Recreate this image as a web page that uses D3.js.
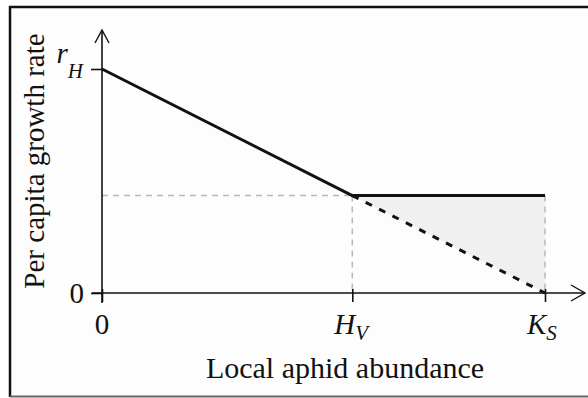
<!DOCTYPE html>
<html>
<head>
<meta charset="utf-8">
<script src="https://cdn.jsdelivr.net/npm/d3@7"></script>
<style>
  html, body { margin: 0; padding: 0; background: #fff; }
</style>
</head>
<body>
<svg id="chart" width="588" height="398" font-family="'Liberation Serif', 'Times New Roman', serif"></svg>
<script>
// Local aphid abundance (x) at the three marked points: 0, H_V, K_S
const abundance = [0, 0.565, 1];
// Growth rate with host vigour (levels off after H_V)
const growthVigour = [1, 0.435, 0.435];
// Logistic decline continued to K_S (dashed beyond H_V)
const growthLogistic = [1, 0.435, 0];
// Tick labels: main glyph + subscript
const xTickLabels = [["0", ""], ["H", "V"], ["K", "S"]];
const yTickValues = [0, 1];
const yTickLabels = [["0", ""], ["r", "H"]];

const svg = d3.select("#chart");
const ink = "#111";

const x = d3.scaleLinear().domain([0, 1]).range([102, 545]);
const y = d3.scaleLinear().domain([0, 1]).range([293, 69]);

// frame
svg.append("rect").attr("x", 0).attr("y", 0).attr("width", 588).attr("height", 398).attr("fill", "#fff");
svg.append("rect").attr("x", 10).attr("y", 7).attr("width", 600).attr("height", 389)
  .attr("fill", "#fdfdfd");
svg.append("line").attr("x1", 10).attr("x2", 10).attr("y1", 6).attr("y2", 397)
  .attr("stroke", ink).attr("stroke-width", 2.5);
svg.append("line").attr("x1", 9).attr("x2", 588).attr("y1", 7).attr("y2", 7)
  .attr("stroke", ink).attr("stroke-width", 2.5);
svg.append("line").attr("x1", 10).attr("x2", 588).attr("y1", 396.5).attr("y2", 396.5)
  .attr("stroke", "#666").attr("stroke-width", 2);

const pts = (ys) => abundance.map((a, i) => [x(a), y(ys[i])]);

// shaded gap between the two curves beyond H_V
const area = d3.area().x(d => d[0]).y0(d => d[1]).y1(d => d[2]);
svg.append("path")
  .datum(abundance.slice(1).map((a, i) => [x(a), y(growthLogistic[i + 1]), y(growthVigour[i + 1])]))
  .attr("d", area)
  .attr("fill", "#f0f0f0");

// grey guide lines
const guide = (x1, y1, x2, y2) => svg.append("line")
  .attr("x1", x1).attr("y1", y1).attr("x2", x2).attr("y2", y2)
  .attr("stroke", "#b8b8b8").attr("stroke-width", 1.5).attr("stroke-dasharray", "6,5");
guide(x(0), y(growthVigour[1]), x(abundance[1]), y(growthVigour[1]));
guide(x(abundance[1]), y(growthVigour[1]), x(abundance[1]), y(0));
guide(x(abundance[2]), y(growthVigour[2]), x(abundance[2]), y(0));

// axes (ticks only, labels drawn below with subscripts)
const xAxis = d3.axisBottom(x).tickValues(abundance).tickSize(9).tickSizeOuter(0).tickFormat("");
const gx = svg.append("g").attr("transform", `translate(0,${y(0)})`).call(xAxis);
gx.select(".domain").remove();
gx.selectAll(".tick line").attr("y1", -4).attr("stroke", ink).attr("stroke-width", 1.6);

const yAxis = d3.axisLeft(y).tickValues(yTickValues).tickSize(11).tickSizeOuter(0).tickFormat("");
const gy = svg.append("g").attr("transform", `translate(${x(0)},0)`).call(yAxis);
gy.select(".domain").remove();
gy.selectAll(".tick line").attr("stroke", ink).attr("stroke-width", 1.6);

// axis lines with open arrowheads
const axisPath = d3.line();
svg.append("path").attr("d", axisPath([[x(0) - 10, y(0)], [585, y(0)]]))
  .attr("stroke", ink).attr("stroke-width", 1.6).attr("fill", "none");
svg.append("path").attr("d", axisPath([[571, y(0) - 8], [585, y(0)], [571, y(0) + 8]]))
  .attr("stroke", ink).attr("stroke-width", 1.4).attr("fill", "none");
svg.append("path").attr("d", axisPath([[x(0), y(0) + 10], [x(0), 30]]))
  .attr("stroke", ink).attr("stroke-width", 1.6).attr("fill", "none");
svg.append("path").attr("d", axisPath([[x(0) - 7, 43], [x(0), 30], [x(0) + 7, 43]]))
  .attr("stroke", ink).attr("stroke-width", 1.4).attr("fill", "none");

// curves
const line = d3.line();
svg.append("path").attr("d", line(pts(growthLogistic).slice(1)))
  .attr("stroke", ink).attr("stroke-width", 3).attr("fill", "none")
  .attr("stroke-dasharray", "7,8");
svg.append("path").attr("d", line(pts(growthVigour)))
  .attr("stroke", ink).attr("stroke-width", 3).attr("fill", "none")
  .attr("stroke-linejoin", "round");

// x tick labels
const xLab = svg.append("g").selectAll("text").data(abundance).join("text")
  .attr("x", (d, i) => x(d) + (i === 0 ? 0 : -18))
  .attr("y", 334)
  .attr("font-size", 29)
  .attr("fill", ink)
  .attr("text-anchor", (d, i) => i === 0 ? "middle" : "start");
xLab.append("tspan").attr("font-style", (d, i) => i === 0 ? "normal" : "italic")
  .text((d, i) => xTickLabels[i][0]);
xLab.append("tspan").attr("font-style", "italic").attr("font-size", 21)
  .attr("dy", 6)
  .text((d, i) => xTickLabels[i][1]);

// y tick labels
svg.append("text").attr("x", 84).attr("y", y(yTickValues[0]) + 10).attr("fill", ink)
  .attr("font-size", 29).attr("text-anchor", "end").text(yTickLabels[0][0]);
const rl = svg.append("text").attr("x", 83).attr("y", y(yTickValues[1]) - 6).attr("fill", ink)
  .attr("font-size", 29).attr("text-anchor", "end");
rl.append("tspan").attr("font-style", "italic").text(yTickLabels[1][0]);
rl.append("tspan").attr("font-style", "italic").attr("font-size", 21).attr("dy", 15)
  .text(yTickLabels[1][1]);

// axis titles
svg.append("text").attr("x", 345).attr("y", 378).attr("font-size", 30).attr("fill", ink)
  .attr("text-anchor", "middle").text("Local aphid abundance");
svg.append("text").attr("transform", "translate(44,161) rotate(-90)").attr("font-size", 29)
  .attr("fill", ink).attr("text-anchor", "middle").text("Per capita growth rate");
</script>
</body>
</html>
